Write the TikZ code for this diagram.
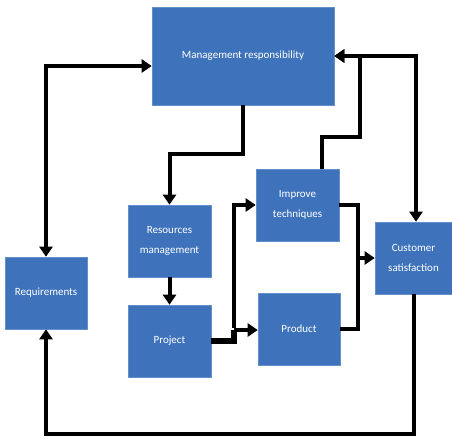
\documentclass[tikz,border=0pt]{standalone}
\usepackage{fontspec}
\setmainfont{Carlito}
\usetikzlibrary{arrows.meta,calc}
\definecolor{boxblue}{RGB}{62,115,187}

\begin{document}
\begin{tikzpicture}[x=1pt,y=-1pt,
    box/.style={rectangle,fill=boxblue,draw=boxblue!80!white,line width=0.6pt,
                text=white,align=center,inner sep=2pt,
                font=\fontsize{11}{20}\selectfont},
    line/.style={line width=4pt},
    flow/.style={line,-{Triangle[length=10pt,width=13pt]}},
    twoway/.style={line,{Triangle[length=10pt,width=13pt]}-{Triangle[length=10pt,width=13pt]}},
    thickline/.style={line width=6.5pt}]
  \useasboundingbox (0,0) rectangle (452,439);
  % boxes
  \node[box,minimum width=182pt,minimum height=98pt](mgmt)at(243,56){Management responsibility};
  \node[box,minimum width=83pt,minimum height=72pt](res)at(169.5,241){Resources\\management};
  \node[box,minimum width=83pt,minimum height=72pt](proj)at(169.5,341){Project};
  \node[box,minimum width=82pt,minimum height=72pt](req)at(46,293){Requirements};
  \node[box,minimum width=83pt,minimum height=72pt](impr)at(297.5,205){Improve\\techniques};
  \node[box,minimum width=82pt,minimum height=72pt](prod)at(299,329){Product};
  \node[box,minimum width=77pt,minimum height=72pt](cust)at(413.5,258){Customer\\satisfaction};
  % joints
  \coordinate (split) at (234,330);
  \coordinate (merge) at (358,258);
  \coordinate (back) at (360,137);
  % connectors
  \draw[flow] (mgmt.south) -- ++(0,49) -| (res.north);
  \draw[flow] (res) -- (proj);
  \draw[thickline] (proj.east) -| (split);
  \draw[flow] (split) -- (split -| prod.west);
  \draw[flow] ([yshift=2pt]split) |- (impr.west);
  \draw[line] (impr.east) -| (merge);
  \draw[line] (prod.east) -| (merge);
  \draw[flow] ([xshift=-2pt]merge) -- (cust.west);
  \draw[flow] ([xshift=24pt]impr.north) |- (back) -- (back |- mgmt.east) -- (mgmt.east);
  \draw[twoway] (mgmt.east) -| ([xshift=2.5pt]cust.north);
  \draw[twoway] (req.north) |- ([yshift=-10pt]mgmt.west);
  \draw[flow] (cust.south) -- ++(0,140) -| (req.south);
\end{tikzpicture}
\end{document}
